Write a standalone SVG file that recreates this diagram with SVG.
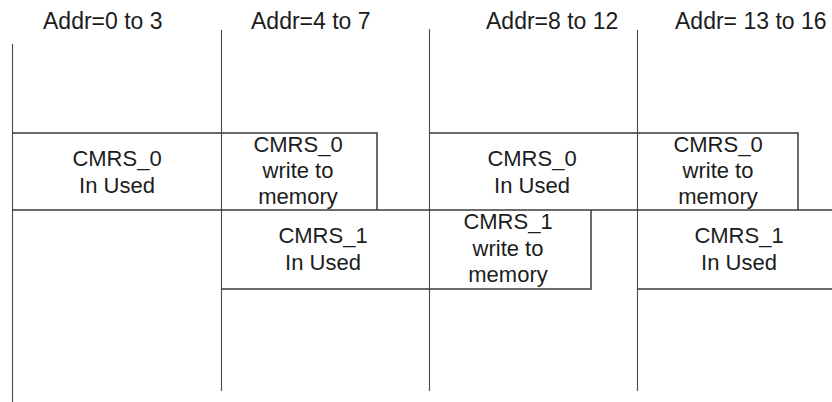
<svg xmlns="http://www.w3.org/2000/svg" width="832" height="402" viewBox="0 0 832 402">
  <style>
    .bg { fill: #ffffff; }
    .lane { stroke: #4a4a4a; stroke-width: 1.1; fill: none; }
    .edge { stroke: #3a3a3a; stroke-width: 1.5; fill: none; }
    .hdr { font-family: "Liberation Sans", Arial, sans-serif; font-size: 23px; fill: #1c1c1c; }
    .lbl { font-family: "Liberation Sans", Arial, sans-serif; font-size: 22px; fill: #1c1c1c; text-anchor: middle; }
  </style>
  <rect class="bg" x="0" y="0" width="832" height="402"/>

  <!-- address range headings -->
  <g id="headers">
    <text class="hdr" x="43" y="29">Addr=0 to 3</text>
    <text class="hdr" x="251" y="29">Addr=4 to 7</text>
    <text class="hdr" x="486" y="29">Addr=8 to 12</text>
    <text class="hdr" x="675" y="29">Addr= 13 to 16</text>
  </g>

  <!-- lane separators and row edges -->
  <g id="connectors">
    <path class="lane" d="M12.5 44 V402"/>
    <path class="lane" d="M221.5 30 V391"/>
    <path class="lane" d="M429.5 29 V391"/>
    <path class="lane" d="M637.5 30 V391"/>
    <!-- CMRS_0 row -->
    <path class="edge" d="M12 133 H377 V210"/>
    <path class="edge" d="M429 133 H798 V210"/>
    <path class="edge" d="M12 210 H832"/>
    <!-- CMRS_1 row -->
    <path class="edge" d="M221 289 H591 V210"/>
    <path class="edge" d="M637 289 H832"/>
  </g>

  <g id="cmrs0-used-0to3">
    <text class="lbl" x="117" y="166">CMRS_0</text>
    <text class="lbl" x="117" y="193">In Used</text>
  </g>

  <g id="cmrs0-write-4to7">
    <text class="lbl" x="298" y="152">CMRS_0</text>
    <text class="lbl" x="298" y="178">write to</text>
    <text class="lbl" x="298" y="204">memory</text>
  </g>

  <g id="cmrs1-used-4to7">
    <text class="lbl" x="323" y="243">CMRS_1</text>
    <text class="lbl" x="323" y="270">In Used</text>
  </g>

  <g id="cmrs0-used-8to12">
    <text class="lbl" x="532" y="166">CMRS_0</text>
    <text class="lbl" x="532" y="193">In Used</text>
  </g>

  <g id="cmrs1-write-8to12">
    <text class="lbl" x="508" y="229">CMRS_1</text>
    <text class="lbl" x="508" y="256">write to</text>
    <text class="lbl" x="508" y="282">memory</text>
  </g>

  <g id="cmrs0-write-13to16">
    <text class="lbl" x="718" y="152">CMRS_0</text>
    <text class="lbl" x="718" y="178">write to</text>
    <text class="lbl" x="718" y="204">memory</text>
  </g>

  <g id="cmrs1-used-13to16">
    <text class="lbl" x="739" y="243">CMRS_1</text>
    <text class="lbl" x="739" y="270">In Used</text>
  </g>
</svg>
